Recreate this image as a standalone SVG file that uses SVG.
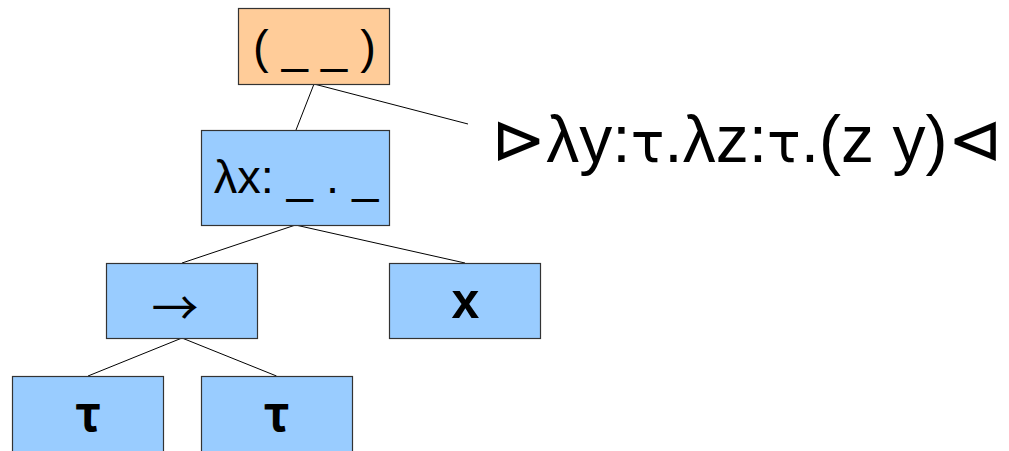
<svg xmlns="http://www.w3.org/2000/svg" width="1009" height="451" viewBox="0 0 1009 451">
  <style>
    .box { stroke: #333333; stroke-width: 1.2; }
    .orange { fill: #ffcc99; }
    .blue { fill: #99ccff; }
    .edge { stroke: #000000; stroke-width: 1; fill: none; }
    .t { font-family: "Liberation Sans", Arial, "DejaVu Sans", sans-serif; fill: #000000; }
    .sym { font-family: "Noto Sans CJK SC", "DejaVu Sans", sans-serif; }
    .greek { font-family: "DejaVu Sans", sans-serif; }
    .bold { font-weight: bold; }
  </style>
  <rect width="1009" height="451" fill="#ffffff"/>

  <!-- connectors between tree nodes -->
  <g id="connectors">
    <line class="edge" x1="314" y1="84" x2="296" y2="130"/>
    <line class="edge" x1="314" y1="84" x2="468" y2="124"/>
    <line class="edge" x1="295.5" y1="225" x2="182" y2="263"/>
    <line class="edge" x1="295.5" y1="225" x2="465" y2="263"/>
    <line class="edge" x1="182" y1="338" x2="88" y2="376"/>
    <line class="edge" x1="182" y1="338" x2="276.5" y2="376"/>
  </g>

  <g id="node-app">
    <rect class="box orange" x="238.5" y="8.5" width="151" height="76"/>
    <text class="t" x="314.5" y="63" font-size="47" text-anchor="middle" xml:space="preserve">( _ _ )</text>
  </g>

  <g id="node-lambda">
    <rect class="box blue" x="201.5" y="130.5" width="188" height="95"/>
    <text class="t" x="296" y="193" font-size="47" text-anchor="middle">λx: _ . _</text>
  </g>

  <g id="node-arrow">
    <rect class="box blue" x="106.5" y="263.5" width="151" height="75"/>
    <text class="t sym" x="175" y="325" font-size="47" text-anchor="middle">→</text>
  </g>

  <g id="node-x">
    <rect class="box blue" x="389.5" y="263.5" width="151" height="75"/>
    <text class="t bold" x="465.5" y="318" font-size="50" text-anchor="middle">x</text>
  </g>

  <g id="node-tau-1">
    <rect class="box blue" x="12.5" y="376.5" width="151" height="80"/>
    <text class="t sym bold" x="88" y="431" font-size="48" text-anchor="middle">τ</text>
  </g>

  <g id="node-tau-2">
    <rect class="box blue" x="201.5" y="376.5" width="151" height="80"/>
    <text class="t sym bold" x="276.5" y="431" font-size="48" text-anchor="middle">τ</text>
  </g>

  <g id="term-label">
    <text class="t" x="491" y="162" font-size="66">⊳λy:<tspan class="greek" font-size="56">τ</tspan>.λz:<tspan class="greek" font-size="56">τ</tspan>.(z y)⊲</text>
  </g>
</svg>
